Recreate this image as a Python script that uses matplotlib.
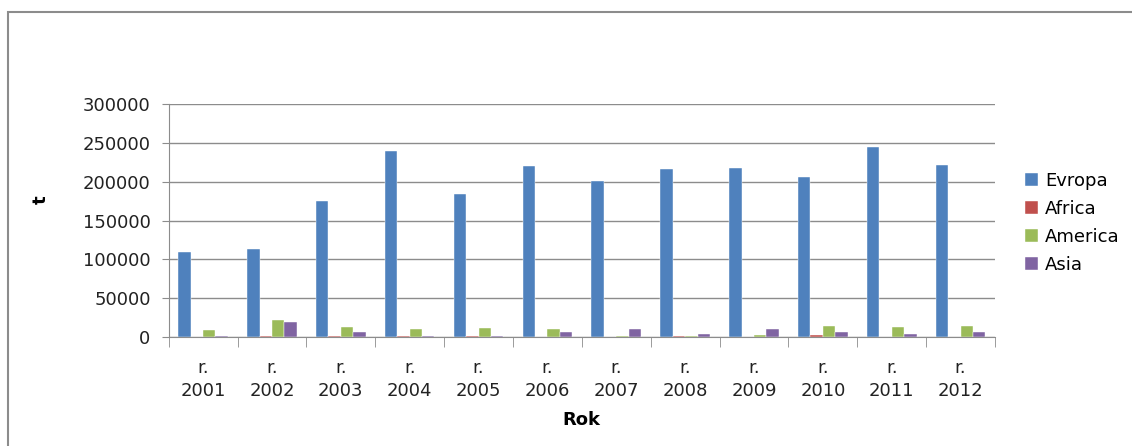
import matplotlib.pyplot as plt
import numpy as np
from matplotlib.patches import Rectangle

years = ['2001', '2002', '2003', '2004', '2005', '2006',
         '2007', '2008', '2009', '2010', '2011', '2012']
evropa = [110000, 114000, 175000, 239000, 184000, 220000,
          201000, 216000, 217000, 206000, 244000, 222000]
africa = [0, 1800, 1300, 1500, 1500, 0, 0, 1800, 0, 3100, 0, 0]
america = [8600, 21500, 12500, 9900, 11200, 9900, 1300, 1300, 3100, 14200, 12500, 14200]
asia = [1800, 19700, 7300, 1500, 1300, 7300, 9900, 4400, 9900, 7300, 4400, 7300]

series = [('Evropa', evropa, '#4F81BD'),
          ('Africa', africa, '#C0504D'),
          ('America', america, '#9BBB59'),
          ('Asia', asia, '#8064A2')]

plt.rcParams['font.family'] = ['DejaVu Sans']
fs = 13
fig = plt.figure(figsize=(11.32, 4.46), dpi=100)
ax = fig.add_axes([0.149, 0.244, 0.73, 0.523])

x = np.arange(len(years))
w = 0.18
for i, (name, vals, col) in enumerate(series):
    ax.bar(x + (i - 1.5) * w, vals, w, color=col, label=name,
           edgecolor='white', linewidth=0.3)

ax.set_xlim(-0.5, len(years) - 0.5)
ax.set_ylim(0, 300000)
ax.set_yticks(np.arange(0, 300001, 50000))
ax.set_yticklabels([str(v) for v in range(0, 300001, 50000)], fontsize=fs,
                   color='#222222')
ax.yaxis.grid(True, color='#8c8c8c', linewidth=1)
ax.set_axisbelow(True)

ax.set_xticks(x)
ax.set_xticklabels(['r.\n' + y for y in years], fontsize=fs,
                   linespacing=1.35, color='#222222')
ax.tick_params(axis='x', length=0, pad=16)
ax.set_xticks(np.arange(-0.5, len(years)), minor=True)
ax.tick_params(axis='x', which='minor', length=7, color='#8c8c8c')
ax.tick_params(axis='y', length=5, color='#8c8c8c', pad=8)

for s in ['top', 'right']:
    ax.spines[s].set_visible(False)
for s in ['left', 'bottom']:
    ax.spines[s].set_color('#8c8c8c')

ax.set_ylabel('t', fontsize=fs, fontweight='bold')
ax.yaxis.set_label_coords(-0.144, 0.59)
ax.set_xlabel('Rok', fontsize=fs, fontweight='bold', labelpad=8)

ax.legend(loc='center left', bbox_to_anchor=(1.017, 0.49), frameon=False,
          fontsize=fs, handlelength=0.7, handleheight=0.7,
          handletextpad=0.4, labelspacing=0.55)

fig.patches.append(Rectangle((8 / 1132, -0.05), 1.2, (446 - 12) / 446 + 0.05,
                             transform=fig.transFigure, fill=False,
                             edgecolor='#8c8c8c', linewidth=1.5))

fig.savefig('out.png', dpi=100)
